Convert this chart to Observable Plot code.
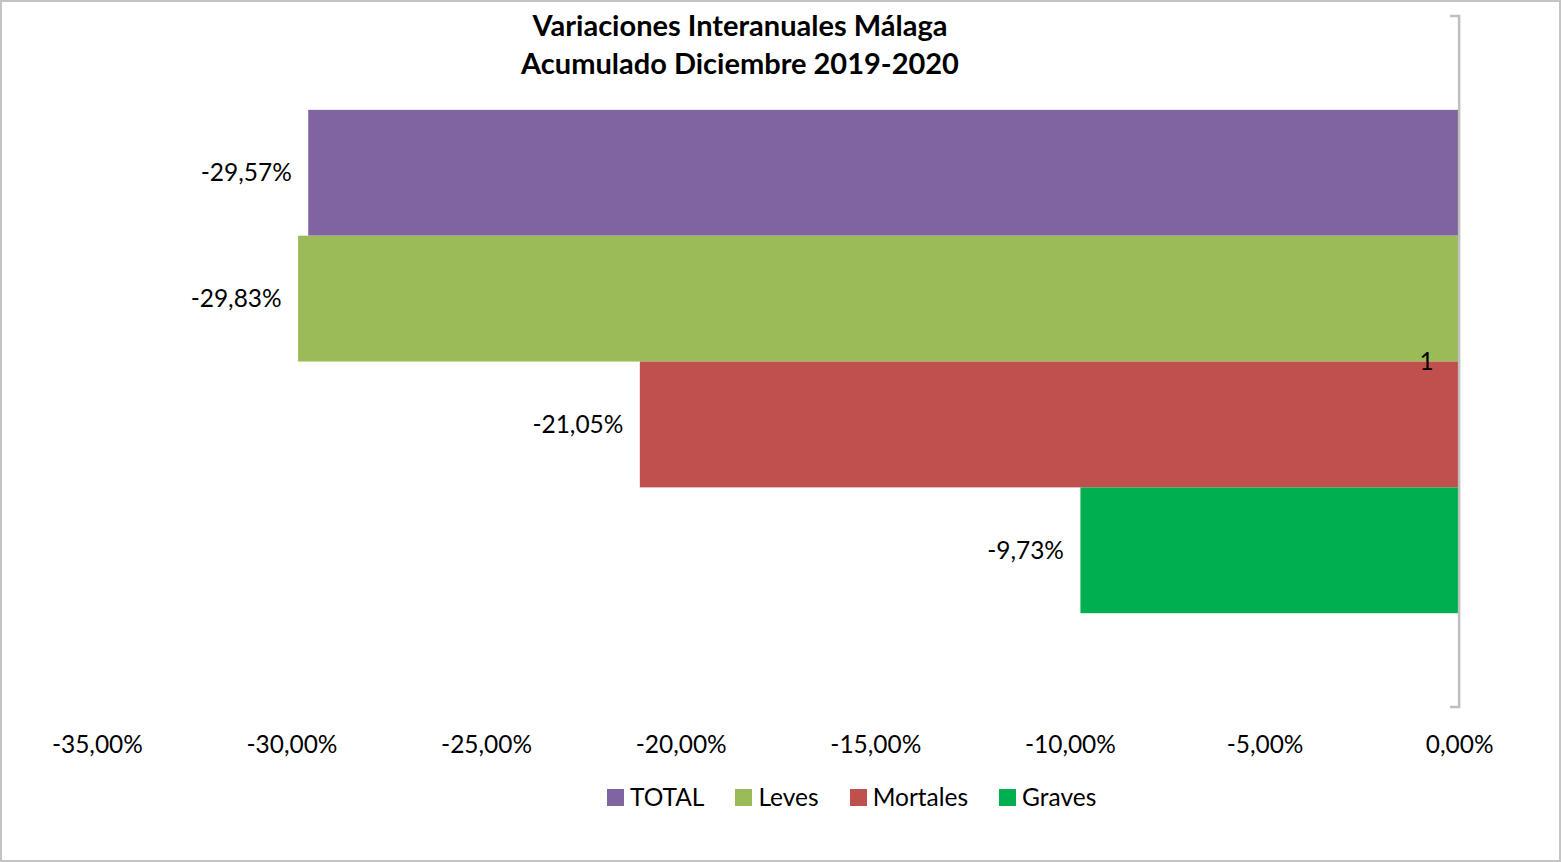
<!DOCTYPE html>
<html><head><meta charset="utf-8">
<script src="https://cdn.jsdelivr.net/npm/d3@7"></script>
<script src="https://cdn.jsdelivr.net/npm/@observablehq/plot@0.6"></script>
<style>
html,body{margin:0;padding:0;background:#fff;}
#wrap{position:relative;width:1561px;height:862px;box-sizing:border-box;border:2px solid #c4c4c4;font-family:Lato,"Open Sans",sans-serif;color:#000;overflow:hidden;}
#title{position:absolute;left:0;width:1476px;top:4px;text-align:center;font-weight:bold;font-size:29px;line-height:38px;}
#chart{position:absolute;left:-2px;top:-2px;}
#legend{position:absolute;top:781px;left:605px;display:flex;gap:0;font-size:24.5px;line-height:28px;}
.item{display:flex;align-items:center;margin-right:31px;}
.sw{width:17px;height:17px;margin-right:6px;}
</style></head>
<body>
<div id="wrap">
<div id="chart"></div>
<div id="title">Variaciones Interanuales Málaga<br>Acumulado Diciembre 2019-2020</div>
<div id="legend"></div>
</div>
<script>
const series = ["TOTAL", "Leves", "Mortales", "Graves"];
const values = [-29.57, -29.83, -21.05, -9.73];
const colors = ["#8064A2", "#9BBB59", "#C0504D", "#00B050"];
const xTicks = [-35, -30, -25, -20, -15, -10, -5, 0];
const category = "1";

const fmt = v => v.toFixed(2).replace(".", ",") + "%";
const data = series.map((s, i) => ({serie: s, value: values[i]}));

const axisEnds = (index, scales, values, dim) => {
  const g = document.createElementNS("http://www.w3.org/2000/svg", "path");
  const xr = dim.width - dim.marginRight;
  const yt = dim.marginTop, yb = dim.height - dim.marginBottom;
  g.setAttribute("d", `M${xr - 9},${yt}H${xr}V${yb}H${xr - 9}`);
  g.setAttribute("fill", "none");
  g.setAttribute("stroke", "#bfbfbf");
  g.setAttribute("stroke-width", "2.5");
  return g;
};

const plot = Plot.plot({
  width: 1561,
  height: 780,
  marginLeft: 97,
  marginRight: 100,
  marginTop: 16,
  marginBottom: 72,
  style: {fontFamily: "Lato, 'Open Sans', sans-serif", fontSize: "24.5px", color: "#000", background: "transparent"},
  x: {domain: [-35, 0], ticks: xTicks, tickFormat: fmt, label: null},
  y: {domain: series, paddingInner: 0, paddingOuter: 0.746, axis: null},
  color: {domain: series, range: colors},
  marks: [
    Plot.barX(data, {y: "serie", x: "value", fill: "serie"}),
    Plot.text(data, {y: "serie", x: "value", text: d => fmt(d.value), textAnchor: "end", dx: -17, fontSize: 24.5}),
    axisEnds,
    Plot.text([category], {frameAnchor: "right", text: d => d, dx: -26, fontSize: 24.5}),
    Plot.axisX({ticks: xTicks, tickFormat: fmt, tickSize: 0, tickPadding: 28, fontSize: 24.5, label: null})
  ]
});
document.getElementById("chart").appendChild(plot);

const leg = document.getElementById("legend");
series.forEach((s, i) => {
  const it = document.createElement("div");
  it.className = "item";
  it.innerHTML = `<span class="sw" style="background:${colors[i]}"></span><span>${s}</span>`;
  leg.appendChild(it);
});
</script>
</body></html>
